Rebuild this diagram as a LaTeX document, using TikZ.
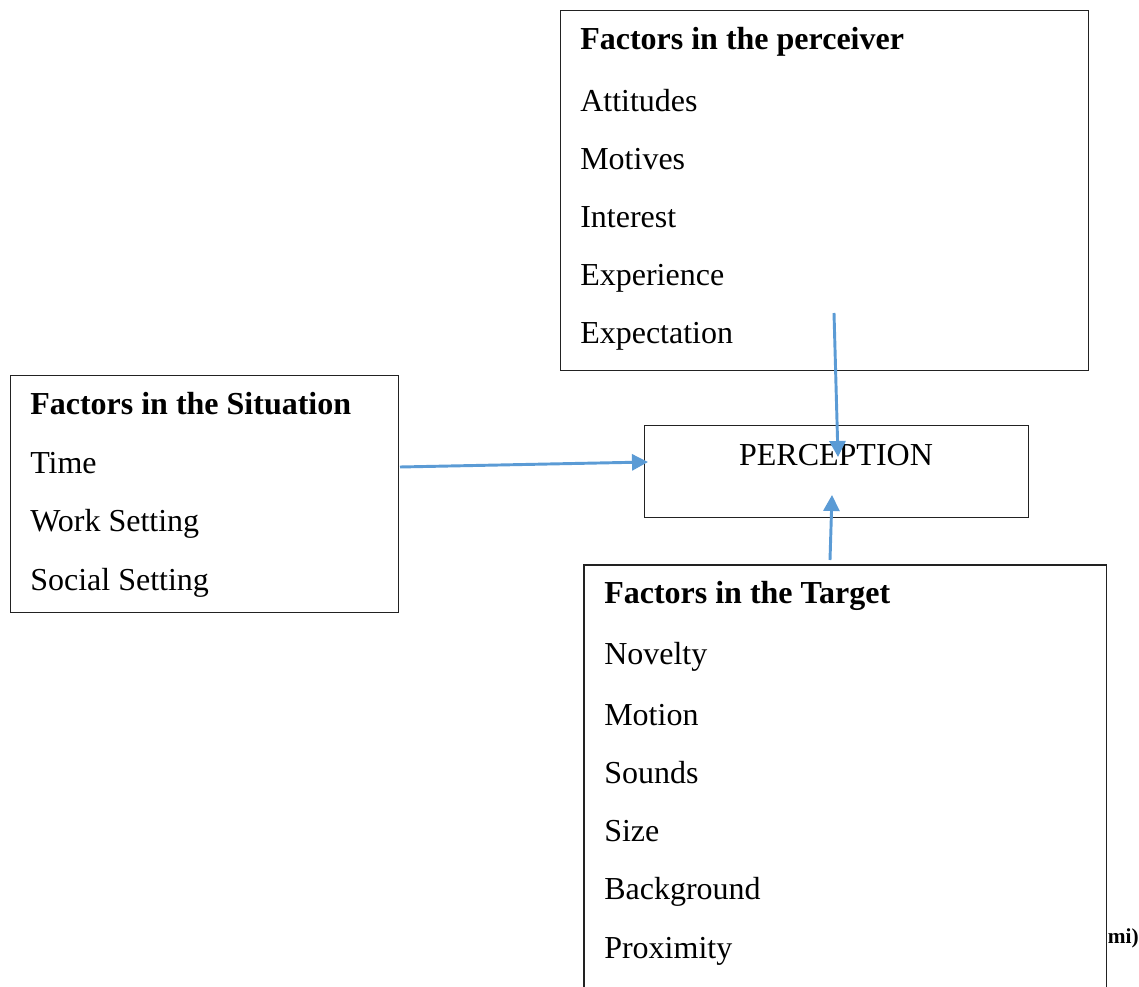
\documentclass[tikz,border=0pt]{standalone}
\usepackage{fontspec}
\setmainfont{Liberation Serif}
\usepackage{tikz}
\usetikzlibrary{arrows.meta}
\definecolor{linkblue}{HTML}{5B9BD5}
\definecolor{boxgray}{HTML}{222222}

\begin{document}
\begin{tikzpicture}[x=0.75pt,y=-0.75pt,
    box/.style={rectangle,draw=boxgray,line width=1.1pt,anchor=north west,inner sep=0pt},
    item/.style={anchor=base west,inner sep=0pt,font=\fontsize{24}{29}\selectfont},
    head/.style={item,font=\fontsize{24}{29}\selectfont\bfseries},
    link/.style={draw=linkblue,line width=2.2pt,-{Triangle[length=12pt,width=12pt]}}]
    \useasboundingbox (0,0) rectangle (1139,987);
    % boxes
    \node (perc) at (560,10) [box,minimum width=528*0.75pt,minimum height=360*0.75pt] {};
    \node (sit) at (10,375) [box,minimum width=388*0.75pt,minimum height=237*0.75pt] {};
    \node (cent) at (644,425) [box,minimum width=384*0.75pt,minimum height=92*0.75pt] {};
    \node (targ) at (584,565) [rectangle,anchor=north west,inner sep=0pt,minimum width=522*0.75pt,minimum height=430*0.75pt] {};
    \draw[draw=boxgray,line width=1.1pt] (targ.south west) |- (targ.north east) -- (targ.south east);
    % perceiver
    \node (ph) at (580,50) [head] {Factors in the perceiver};
    \node (p1) at (580,112) [item] {Attitudes};
    \node (p2) at (580,170) [item] {Motives};
    \node (p3) at (580,228) [item] {Interest};
    \node (p4) at (580,286) [item] {Experience};
    \node (p5) at (580,344) [item] {Expectation};
    % situation
    \node (sh) at (30,415) [head] {Factors in the Situation};
    \node (s1) at (30,474) [item] {Time};
    \node (s2) at (30,532) [item] {Work Setting};
    \node (s3) at (30,590) [item] {Social Setting};
    % centre
    \node (ct) at (836,465) [item,anchor=base] {PERCEPTION};
    % target
    \node (th) at (604,603) [head] {Factors in the Target};
    \node (t1) at (604,664) [item] {Novelty};
    \node (t2) at (604,725) [item] {Motion};
    \node (t3) at (604,783) [item] {Sounds};
    \node (t4) at (604,841) [item] {Size};
    \node (t5) at (604,899) [item] {Background};
    \node (t6) at (604,958) [item] {Proximity};
    \node (note) at (1139,943) [anchor=base east,inner sep=0pt,font=\fontsize{16}{19}\selectfont\bfseries] {mi)};
    % arrows
    \coordinate (sitout) at (400,467);
    \coordinate (sitin) at (648,462);
    \coordinate (percout) at (834,313);
    \coordinate (percin) at (838,457);
    \coordinate (targout) at (830,560);
    \coordinate (targin) at (832,495);
    \draw[link] (sitout) -- (sitin);
    \draw[link] (percout) -- (percin);
    \draw[link] (targout) -- (targin);
\end{tikzpicture}
\end{document}
